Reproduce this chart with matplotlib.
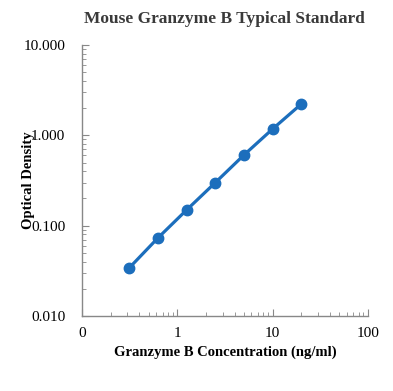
import matplotlib.pyplot as plt
from matplotlib.ticker import FixedLocator, LogLocator, NullFormatter

plt.rcParams['font.family'] = ['Liberation Serif', 'DejaVu Serif']

# standard curve data
conc = [0.3125, 0.625, 1.25, 2.5, 5, 10, 20]
od = [0.034, 0.073, 0.149, 0.299, 0.605, 1.175, 2.22]

x_ticks = [0.1, 1, 10, 100]
x_labels = ["0", "1", "10", "100"]
y_ticks = [0.01, 0.1, 1, 10]
y_labels = ["0.010", "0.100", "1.000", "10.000"]

fig = plt.figure(figsize=(3.93, 3.91), dpi=100)
ax = fig.add_axes([0.2087, 0.1918, 0.7273, 0.6931])

ax.plot(conc, od, color="#1c6ebc", linewidth=2.3, marker="o", markersize=7.5)

ax.set_xscale("log")
ax.set_yscale("log")
ax.set_xlim(0.1, 100)
ax.set_ylim(0.01, 10)

ax.xaxis.set_major_locator(FixedLocator(x_ticks))
ax.set_xticklabels(x_labels)
ax.yaxis.set_major_locator(FixedLocator(y_ticks))
ax.set_yticklabels(y_labels)
ax.xaxis.set_minor_locator(LogLocator(base=10, subs=range(2, 10)))
ax.yaxis.set_minor_locator(LogLocator(base=10, subs=range(2, 10)))
ax.xaxis.set_minor_formatter(NullFormatter())
ax.yaxis.set_minor_formatter(NullFormatter())

for s in ["top", "right"]:
    ax.spines[s].set_visible(False)
for s in ["left", "bottom"]:
    ax.spines[s].set_color("#888888")
    ax.spines[s].set_linewidth(1.0)

ax.tick_params(which="major", direction="in", length=5, color="#888888", labelsize=11)
ax.tick_params(which="minor", direction="in", length=3, color="#888888")
ax.tick_params(axis="x", which="major", pad=8)
ax.tick_params(axis="y", which="major", pad=12)

ax.set_title("Mouse Granzyme B Typical Standard", fontsize=12.5, fontweight="bold",
             color="#3a3a3a", pad=16)
ax.set_xlabel("Granzyme B Concentration (ng/ml)", fontsize=10.5, fontweight="bold")
ax.set_ylabel("Optical Density", fontsize=10.5, fontweight="bold", labelpad=-8)

fig.savefig("out.png", dpi=100)
